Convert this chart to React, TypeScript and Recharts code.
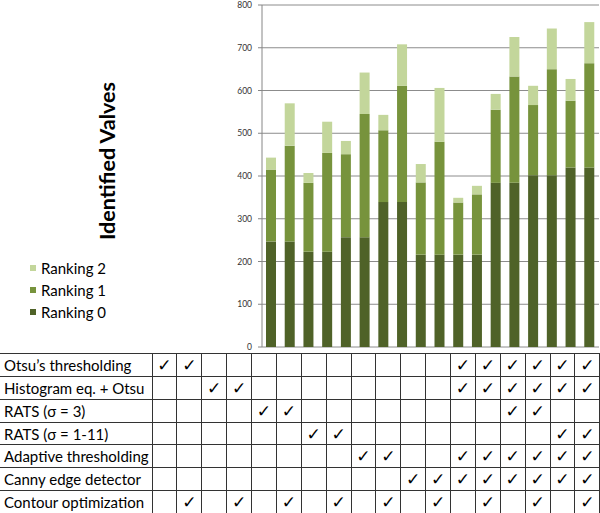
import { BarChart, Bar, XAxis, YAxis, CartesianGrid, Legend } from 'recharts'

const configs = ['1', '2', '3', '4', '5', '6', '7', '8', '9', '10', '11', '12', '13', '14', '15', '16', '17', '18']
const ranking0 = [247, 247, 223, 223, 257, 257, 339, 339, 216, 216, 216, 216, 384, 384, 402, 402, 420, 420]
const ranking1 = [168, 224, 161, 231, 194, 288, 168, 272, 169, 264, 122, 141, 171, 249, 164, 248, 156, 244]
const ranking2 = [28, 99, 23, 73, 31, 97, 36, 97, 43, 126, 11, 20, 37, 92, 45, 95, 51, 96]
const yTicks = [0, 100, 200, 300, 400, 500, 600, 700, 800]

const methods = [
  'Otsu’s thresholding',
  'Histogram eq. + Otsu',
  'RATS (σ = 3)',
  'RATS (σ = 1-11)',
  'Adaptive thresholding',
  'Canny edge detector',
  'Contour optimization',
]
// 1-based column numbers with a check mark, one list per method
const checks = [
  [1, 2, 13, 14, 15, 16, 17, 18],
  [3, 4, 13, 14, 15, 16, 17, 18],
  [5, 6, 15, 16],
  [7, 8, 17, 18],
  [9, 10, 13, 14, 15, 16, 17, 18],
  [11, 12, 13, 14, 15, 16, 17, 18],
  [2, 4, 6, 8, 10, 12, 14, 16, 18],
]

const data = configs.map((c, i) => ({
  config: c,
  r0: ranking0[i],
  r1: ranking1[i],
  r2: ranking2[i],
}))

const C0 = '#4f6228'
const C1 = '#77933c'
const C2 = '#c3d69b'
const FONT = 'Lato, "Open Sans", sans-serif'

const LABEL_W = 152
const COL_W = (600 - LABEL_W) / configs.length

const BetweenTick = ({ x, y }: any) => (
  <line x1={x - COL_W / 2} y1={y} x2={x - COL_W / 2} y2={y + 4} stroke="#868686" />
)

const LegendContent = ({ payload }: any) => (
  <div style={{ fontFamily: FONT, fontSize: 15, color: '#000' }}>
    {[...(payload || [])].reverse().map((p: any) => (
      <div key={p.value} style={{ display: 'flex', alignItems: 'center', height: 22 }}>
        <span style={{ width: 6, height: 6, background: p.color, marginRight: 5, display: 'inline-block' }} />
        {p.value}
      </div>
    ))}
  </div>
)

const YLabel = () => (
  <text
    x={115}
    y={161}
    transform="rotate(-90 115 161)"
    textAnchor="middle"
    style={{ fontFamily: FONT, fontSize: 21.5, fontWeight: 700, fill: '#000' }}
  >
    Identified Valves
  </text>
)

export default function App() {
  return (
    <div style={{ position: 'absolute', left: 0, top: 0, width: 600, height: 513, background: '#fff', fontFamily: FONT }}>
      <BarChart
        width={600}
        height={353}
        data={data}
        margin={{ top: 5, right: 1, bottom: 6, left: 0 }}
        barSize={10}
      >
        <CartesianGrid vertical={false} stroke="#8c8c8c" />
        <XAxis
          dataKey="config"
          height={0}
          axisLine={{ stroke: '#868686' }}
          tickLine={false}
          tick={<BetweenTick />}
          interval={0}
        />
        <YAxis
          width={LABEL_W}
          domain={[0, 800]}
          ticks={yTicks}
          interval={0}
          axisLine={{ stroke: '#868686' }}
          tickLine={{ stroke: '#868686' }}
          tickSize={4}
          tickMargin={6}
          tick={{ fontSize: 8.5, fill: '#333', fontFamily: FONT }}
          label={<YLabel />}
        />
        <Legend
          layout="vertical"
          verticalAlign="top"
          align="left"
          wrapperStyle={{ left: 30, top: 257, width: 110 }}
          content={<LegendContent />}
        />
        <Bar dataKey="r0" name="Ranking 0" stackId="a" fill={C0} isAnimationActive={false} />
        <Bar dataKey="r1" name="Ranking 1" stackId="a" fill={C1} isAnimationActive={false} />
        <Bar dataKey="r2" name="Ranking 2" stackId="a" fill={C2} isAnimationActive={false} />
      </BarChart>
      <table
        style={{
          position: 'absolute',
          left: 0,
          top: 353,
          width: 600,
          borderCollapse: 'collapse',
          tableLayout: 'fixed',
          fontFamily: FONT,
        }}
      >
        <colgroup>
          <col style={{ width: LABEL_W }} />
          {configs.map((c) => (
            <col key={c} style={{ width: COL_W }} />
          ))}
        </colgroup>
        <tbody>
          {methods.map((m, r) => (
            <tr key={m} style={{ height: 22.86 }}>
              <td
                style={{
                  border: '1px solid #333',
                  borderLeft: 'none',
                  padding: '0 0 0 4px',
                  fontSize: 15,
                  lineHeight: '20px',
                  whiteSpace: 'nowrap',
                  overflow: 'hidden',
                }}
              >
                {m}
              </td>
              {configs.map((c, i) => (
                <td
                  key={c}
                  style={{
                    border: '1px solid #333',
                    padding: 0,
                    textAlign: 'center',
                    fontSize: 17,
                    lineHeight: '20px',
                    fontWeight: 700,
                    fontFamily: '"DejaVu Sans", sans-serif',
                  }}
                >
                  {checks[r].includes(i + 1) ? '✓' : ''}
                </td>
              ))}
            </tr>
          ))}
        </tbody>
      </table>
    </div>
  )
}
